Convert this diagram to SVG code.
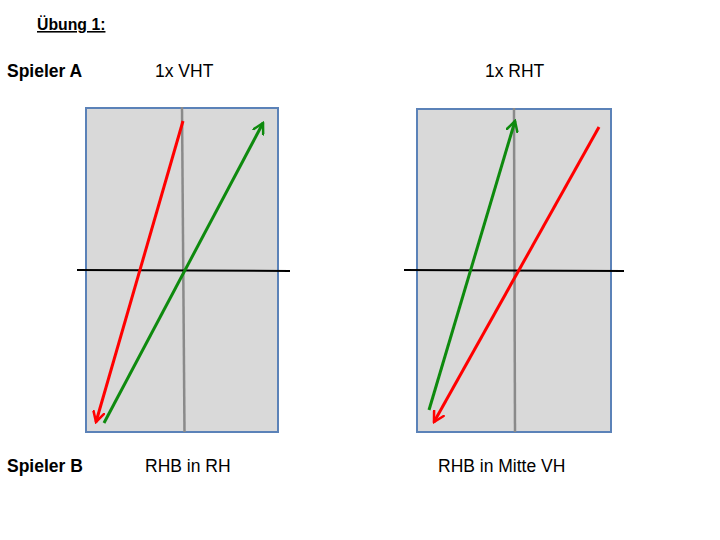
<svg xmlns="http://www.w3.org/2000/svg" width="720" height="540" viewBox="0 0 720 540">
<defs>
<style>
.t{font-family:"Liberation Sans",Arial,sans-serif;font-size:17.5px;fill:#000}
.b{font-weight:bold}
.court{fill:#d9d9d9;stroke:#5b82b8;stroke-width:2}
.mid{stroke:#8a8a8a;stroke-width:2.5}
.net{stroke:#000;stroke-width:2}
.red{stroke:#ff0000;stroke-width:3;fill:none}
.green{stroke:#0e8a0e;stroke-width:3;fill:none}
</style>
<marker id="ar" viewBox="0 0 13 13" refX="11" refY="6.5" markerWidth="13" markerHeight="13" markerUnits="userSpaceOnUse" orient="auto">
<path d="M1,1 L11,6.5 L1,12" fill="none" stroke="#ff0000" stroke-width="2.5" stroke-linecap="round"/>
</marker>
<marker id="ag" viewBox="0 0 13 13" refX="11" refY="6.5" markerWidth="13" markerHeight="13" markerUnits="userSpaceOnUse" orient="auto">
<path d="M1,1 L11,6.5 L1,12" fill="none" stroke="#0e8a0e" stroke-width="2.5" stroke-linecap="round"/>
</marker>
</defs>
<rect width="720" height="540" fill="#fff"/>
<g id="labels">
<text class="t b" x="37" y="30" text-decoration="underline" style="font-size:15.8px">Übung 1:</text>
<text class="t b" x="7" y="77">Spieler A</text>
<text class="t" x="155" y="77">1x VHT</text>
<text class="t" x="485" y="77">1x RHT</text>
<text class="t b" x="7" y="472">Spieler B</text>
<text class="t" x="145" y="472">RHB in RH</text>
<text class="t" x="438" y="472">RHB in Mitte VH</text>
</g>
<g id="court1">
<rect class="court" x="86" y="108" width="192" height="324"/>
<line class="mid" x1="182" y1="107" x2="184.5" y2="432"/>
<line class="net" x1="77" y1="270" x2="290" y2="271"/>
</g>
<g id="court2">
<rect class="court" x="417" y="109" width="194" height="323"/>
<line class="mid" x1="514" y1="108" x2="515" y2="432"/>
<line class="net" x1="404" y1="270" x2="624" y2="271"/>
</g>
<g id="connectors">
<line class="red" x1="183" y1="121" x2="96" y2="422" marker-end="url(#ar)"/>
<line class="green" x1="104" y1="423" x2="263" y2="123" marker-end="url(#ag)"/>
<line class="green" x1="429" y1="410" x2="515" y2="121" marker-end="url(#ag)"/>
<line class="red" x1="599" y1="127" x2="434" y2="422" marker-end="url(#ar)"/>
</g>
</svg>
